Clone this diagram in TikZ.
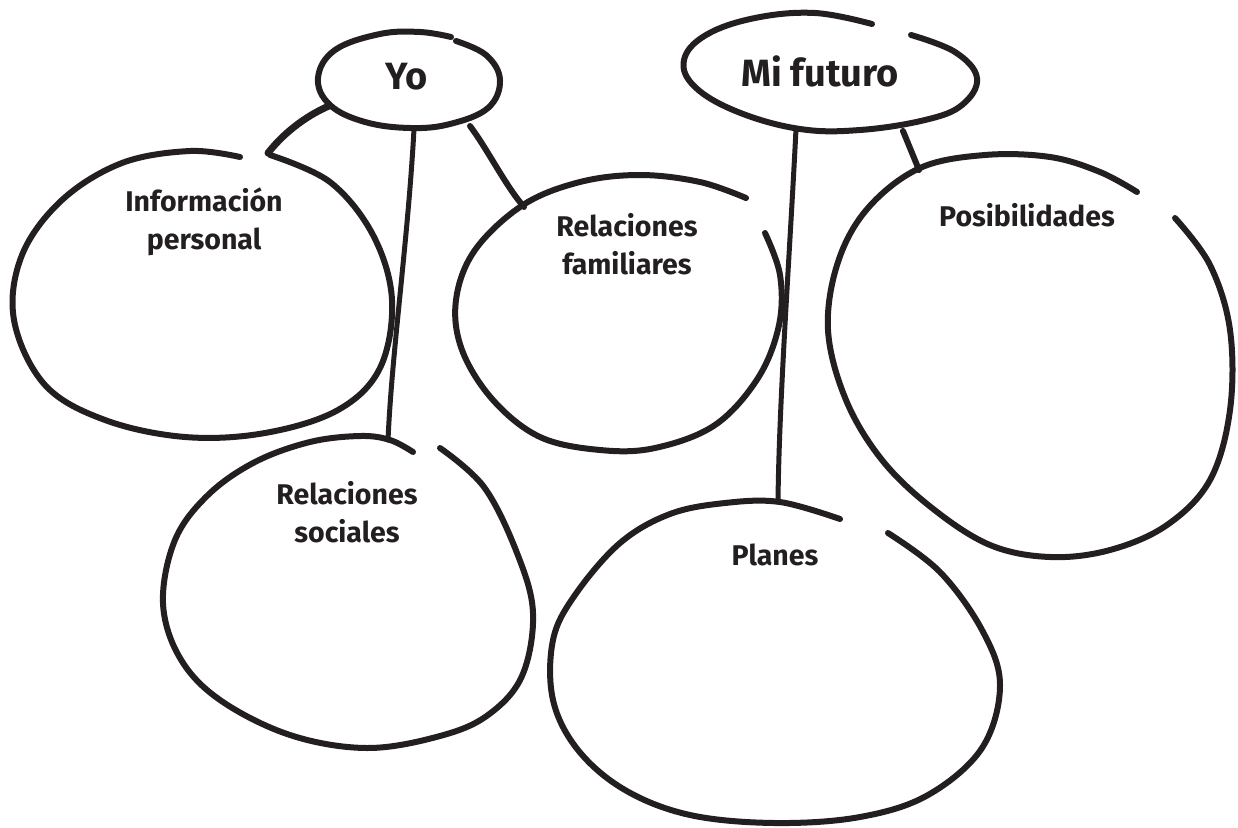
\documentclass[tikz,border=0pt]{standalone}
\usepackage{fontspec}
\setmainfont{Fira Sans}
\definecolor{ink}{HTML}{231F20}
\begin{document}
\begin{tikzpicture}[x=1pt,y=-1pt,
  blob/.style={draw=ink,line width=6pt,line cap=round,line join=round},
  link/.style={draw=ink,line width=6pt,line cap=round},
  lbl/.style={text=ink,font=\fontsize{28.5}{38}\selectfont\bfseries,align=center,inner sep=0pt},
  big/.style={text=ink,font=\fontsize{38}{44}\selectfont\bfseries,inner sep=0pt}]
\useasboundingbox (0,0) rectangle (1238,827);
% ---- blobs ----
% Yo
\draw[blob] plot[smooth,tension=0.65] coordinates {(456,41) (486,55) (500,80) (488,108) (450,124) (410,128) (365,122) (330,105) (318,78) (335,50) (380,34) (420,32) (451,37)};
% Mi futuro
\draw[blob] plot[smooth,tension=0.65] coordinates {(911,35) (955,52) (977,78) (962,105) (925,120) (860,130) (800,129) (738,112) (695,87) (684,60) (706,35) (755,18) (815,13) (872,24)};
% Informacion personal
\draw[blob] plot[smooth,tension=0.6] coordinates {(270,155) (330,182) (373,235) (392,300) (380,368) (338,410) (265,433) (185,437) (105,420) (45,385) (14,320) (22,255) (62,200) (122,163) (190,151) (240,157)};
% Relaciones familiares
\draw[blob] plot[smooth,tension=0.6] coordinates {(765,233) (780,275) (779,325) (758,378) (715,425) (655,448) (600,450) (540,437) (493,400) (462,350) (456,300) (475,250) (523,205) (580,182) (640,175) (700,182) (746,198)};
% Posibilidades
\draw[blob] plot[smooth,tension=0.6] coordinates {(1175,218) (1210,265) (1230,330) (1230,410) (1210,480) (1167,525) (1110,550) (1050,557) (990,545) (932,508) (882,460) (846,400) (828,330) (838,262) (868,208) (920,168) (985,155) (1050,157) (1100,172) (1137,192)};
% Relaciones sociales
\draw[blob] plot[smooth,tension=0.6] coordinates {(440,448) (484,487) (517,553) (533,613) (522,676) (488,715) (440,736) (367,748) (290,735) (220,700) (180,658) (163,603) (175,540) (208,495) (255,462) (310,442) (360,436) (390,440) (413,452)};
% Planes
\draw[blob] plot[smooth,tension=0.6] coordinates {(888,533) (940,572) (982,630) (1000,685) (982,748) (928,795) (860,817) (775,823) (690,815) (625,790) (578,750) (553,700) (553,640) (575,595) (620,543) (670,514) (725,503) (780,502) (840,519)};
% ---- labels ----
\node[big] (yo) at (407,77) {Yo};
\node[big] (futuro) at (820,71) {Mi futuro};
\node[lbl] (info) at (204,222) {Información\\personal};
\node[lbl] (fam) at (627,244) {Relaciones\\familiares};
\node[lbl] (pos) at (1027,215) {Posibilidades};
\node[lbl] (soc) at (347,512) {Relaciones\\sociales};
\node[lbl] (plan) at (775,555) {Planes};
% ---- connector anchors ----
\coordinate (yoA) at (329,106);
\coordinate (yoB) at (414,129);
\coordinate (yoC) at (470,126);
\coordinate (infoT) at (268,153);
\coordinate (socT) at (388,440);
\coordinate (famT) at (524,207);
\coordinate (futA) at (796,129);
\coordinate (futB) at (903,131);
\coordinate (planT) at (778,502);
\coordinate (posT) at (919,170);
% ---- connectors ----
\draw[link,line width=7pt] (yoA) .. controls (310,114) and (286,130) .. (infoT);
\draw[link,line width=5pt] (yoB) .. controls (408,240) and (392,350) .. (socT);
\draw[link] (yoC) .. controls (488,150) and (505,185) .. (famT);
\draw[link,line width=5pt] (futA) .. controls (790,250) and (779,400) .. (planT);
\draw[link] (futB) -- (posT);
\end{tikzpicture}
\end{document}
